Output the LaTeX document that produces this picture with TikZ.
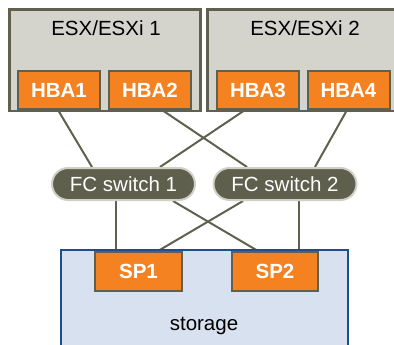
\documentclass[tikz,border=0pt]{standalone}
\usepackage{fontspec}
\setmainfont{Liberation Sans}
\usetikzlibrary{backgrounds}
\definecolor{esxfill}{HTML}{D4D4CC}
\definecolor{esxedge}{HTML}{5F604E}
\definecolor{hbafill}{HTML}{F58220}
\definecolor{swfill}{HTML}{5E5F4C}
\definecolor{swedge}{HTML}{D0D1C6}
\definecolor{stfill}{HTML}{D8E1EF}
\definecolor{stedge}{HTML}{1D4E8F}
\definecolor{wire}{HTML}{5F604E}
\begin{document}
\begin{tikzpicture}[x=1pt,y=-1pt,
  txt/.style={font=\fontsize{20.5}{24}\selectfont},
  esxbox/.style={draw=esxedge, line width=2.5pt, fill=esxfill, inner sep=0pt},
  hbabox/.style={draw=esxedge, line width=2pt, fill=hbafill, text=white, inner sep=0pt,
    font=\fontsize{20.5}{24}\selectfont\bfseries, minimum width=82pt, minimum height=38pt},
  swbox/.style={draw=swedge, line width=2pt, fill=swfill, text=white, inner sep=0pt,
    rounded corners=16pt, minimum width=143pt, minimum height=32pt,
    font=\fontsize{20.5}{24}\selectfont},
  stbox/.style={draw=stedge, line width=2pt, fill=stfill, inner sep=0pt},
  wireline/.style={draw=wire, line width=2pt}]
\clip (0,0) rectangle (394,345);
% hosts
\node[esxbox, minimum width=191pt, minimum height=101.5pt] (esx1) at (105,60.25) {};
\node[esxbox, minimum width=192pt, minimum height=101.5pt] (esx2) at (303.5,60.25) {};
\node[txt] (esx1label) at (106,28) {ESX/ESXi 1};
\node[txt] (esx2label) at (305,28) {ESX/ESXi 2};
\node[hbabox] (hba1) at (59,90) {HBA1};
\node[hbabox] (hba2) at (150,90) {HBA2};
\node[hbabox] (hba3) at (258,90) {HBA3};
\node[hbabox] (hba4) at (348.5,90) {HBA4};
% switches
\node[swbox] (sw1) at (123.5,184) {FC switch 1};
\node[swbox] (sw2) at (285,184) {FC switch 2};
% storage
\node[stbox, minimum width=287pt, minimum height=120pt] (stor) at (204.5,310) {};
\node[txt] (storlabel) at (204,326) {storage};
\node[hbabox, minimum width=87pt, minimum height=39pt] (sp1) at (138.5,271.5) {SP1};
\node[hbabox, minimum width=86pt, minimum height=39pt] (sp2) at (275,271.5) {SP2};
% wires
\begin{pgfonlayer}{background}
\draw[wireline] ([xshift=-1pt]hba1.south) -- ([xshift=-31.5pt]sw1.north);
\draw[wireline] ([xshift=12pt]hba2.south) -- ([xshift=-38pt]sw2.north);
\draw[wireline] ([xshift=-13pt]hba3.south) -- ([xshift=36.5pt]sw1.north);
\draw[wireline] ([xshift=-1.5pt]hba4.south) -- ([xshift=30pt]sw2.north);
\draw[wireline] ([xshift=-7.5pt]sw1.south) -- ([xshift=-22.5pt]sp1.north);
\draw[wireline] ([xshift=49.5pt]sw1.south) -- ([xshift=-17pt]sp2.north);
\draw[wireline] ([xshift=-42pt]sw2.south) -- ([xshift=19.5pt]sp1.north);
\draw[wireline] ([xshift=14pt]sw2.south) -- ([xshift=24pt]sp2.north);
\end{pgfonlayer}
\end{tikzpicture}
\end{document}
